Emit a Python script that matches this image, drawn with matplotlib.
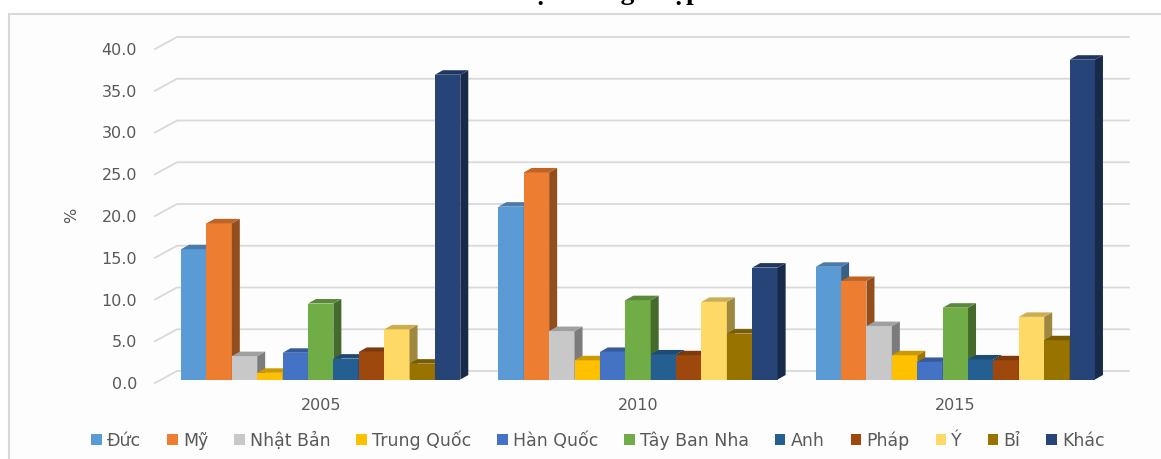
import matplotlib.pyplot as plt
from matplotlib.patches import Polygon, Rectangle, Patch
from matplotlib.colors import to_rgb

# data (% share)
years = ["2005", "2010", "2015"]
countries = ["Đức", "Mỹ", "Nhật Bản", "Trung Quốc", "Hàn Quốc", "Tây Ban Nha",
             "Anh", "Pháp", "Ý", "Bỉ", "Khác"]
share_2005 = [15.6, 18.7, 2.8, 0.8, 3.2, 9.1, 2.5, 3.3, 6.0, 1.9, 36.5]
share_2010 = [20.7, 24.8, 5.8, 2.3, 3.3, 9.5, 3.0, 2.9, 9.3, 5.5, 13.4]
share_2015 = [13.5, 11.8, 6.4, 2.9, 2.1, 8.6, 2.4, 2.3, 7.5, 4.7, 38.3]
colors = ["#5b9bd5", "#ed7d31", "#c8c8c8", "#ffc000", "#4472c4", "#70ad47",
          "#255e91", "#9e480e", "#ffd966", "#997300", "#264478"]

W, H = 1161, 459
fig = plt.figure(figsize=(W / 100, H / 100), dpi=100)
fig.patch.set_facecolor("white")

# chart area frame (runs off the right and bottom edges)
fig.patches.append(Rectangle((9 / W, -0.1), 1.2, (H - 14) / H + 0.1,
                             transform=fig.transFigure, facecolor="#fdfdfd",
                             edgecolor="#d9d9d9", lw=1.5, zorder=-5))

# title, cut off at the top of the picture
fig.text(595 / W, 1 + 1 / H, "Cơ cấu thị trường nhập khẩu", ha="center",
         va="baseline", fontsize=20, fontweight="bold", family="Liberation Serif")

# front plane of the floor
x0, x1 = 155, 1107
y0, y40 = 383, 49
ax = fig.add_axes([x0 / W, 1 - y0 / H, (x1 - x0) / W, (y0 - y40) / H])
ax.set_zorder(2)
ax.set_xlim(-0.5, 2.5)
ax.set_ylim(0, 40)
ax.patch.set_visible(False)
for s in ax.spines.values():
    s.set_visible(False)

px_x = 3 / (x1 - x0)
px_y = 40 / (y0 - y40)

# back wall gridlines with the slanted side wall part
gdx, gdy = 22 * px_x, 12 * px_y
for v in range(0, 41, 5):
    ax.plot([-0.5, -0.5 + gdx, 2.5 + gdx], [v, v + gdy, v + gdy],
            color="#d9d9d9", lw=1.3, clip_on=False, zorder=1)


def shade(c, f):
    r, g, b = to_rgb(c)
    return (r * f, g * f, b * f)


# 3d-looking columns
bdx, bdy = 7 * px_x, 3.5 * px_y   # front face offset from floor front
sdx, sdy = 8 * px_x, 4.5 * px_y   # column depth
w = 0.08
for g, vals in enumerate([share_2005, share_2010, share_2015]):
    for i, (v, c) in enumerate(zip(vals, colors)):
        left = g - 5.5 * w + i * w + bdx
        z = 3 + i * 0.1
        ax.bar(left, v, width=w, bottom=bdy, align="edge", color=c,
               zorder=z, clip_on=False)
        top = bdy + v
        side = [(left + w, bdy), (left + w + sdx, bdy + sdy),
                (left + w + sdx, top + sdy), (left + w, top)]
        lid = [(left, top), (left + w, top), (left + w + sdx, top + sdy),
               (left + sdx, top + sdy)]
        ax.add_patch(Polygon(side, closed=True, facecolor=shade(c, 0.62),
                             edgecolor="none", zorder=z, clip_on=False))
        ax.add_patch(Polygon(lid, closed=True, facecolor=shade(c, 0.8),
                             edgecolor="none", zorder=z, clip_on=False))

ax.set_xticks([g + bdx for g in range(3)], years)
ax.set_yticks(range(0, 41, 5), [f"{v:.1f}" for v in range(0, 41, 5)])
ax.tick_params(length=0, colors="#595959", labelsize=11.5)
ax.tick_params(axis="y", pad=13)
ax.tick_params(axis="x", pad=11)

fig.text(72 / W, 1 - 215 / H, "%", rotation=90, ha="center", va="center",
         color="#595959", fontsize=11.5)

handles = [Patch(facecolor=c) for c in colors]
fig.legend(handles, countries, ncol=11, loc="center",
           bbox_to_anchor=(598 / W, 1 - 440 / H), frameon=False,
           handlelength=0.6, handleheight=0.6, handletextpad=0.3,
           columnspacing=1.5, fontsize=12.5, labelcolor="#595959")

plt.savefig("out.png", dpi=100)
